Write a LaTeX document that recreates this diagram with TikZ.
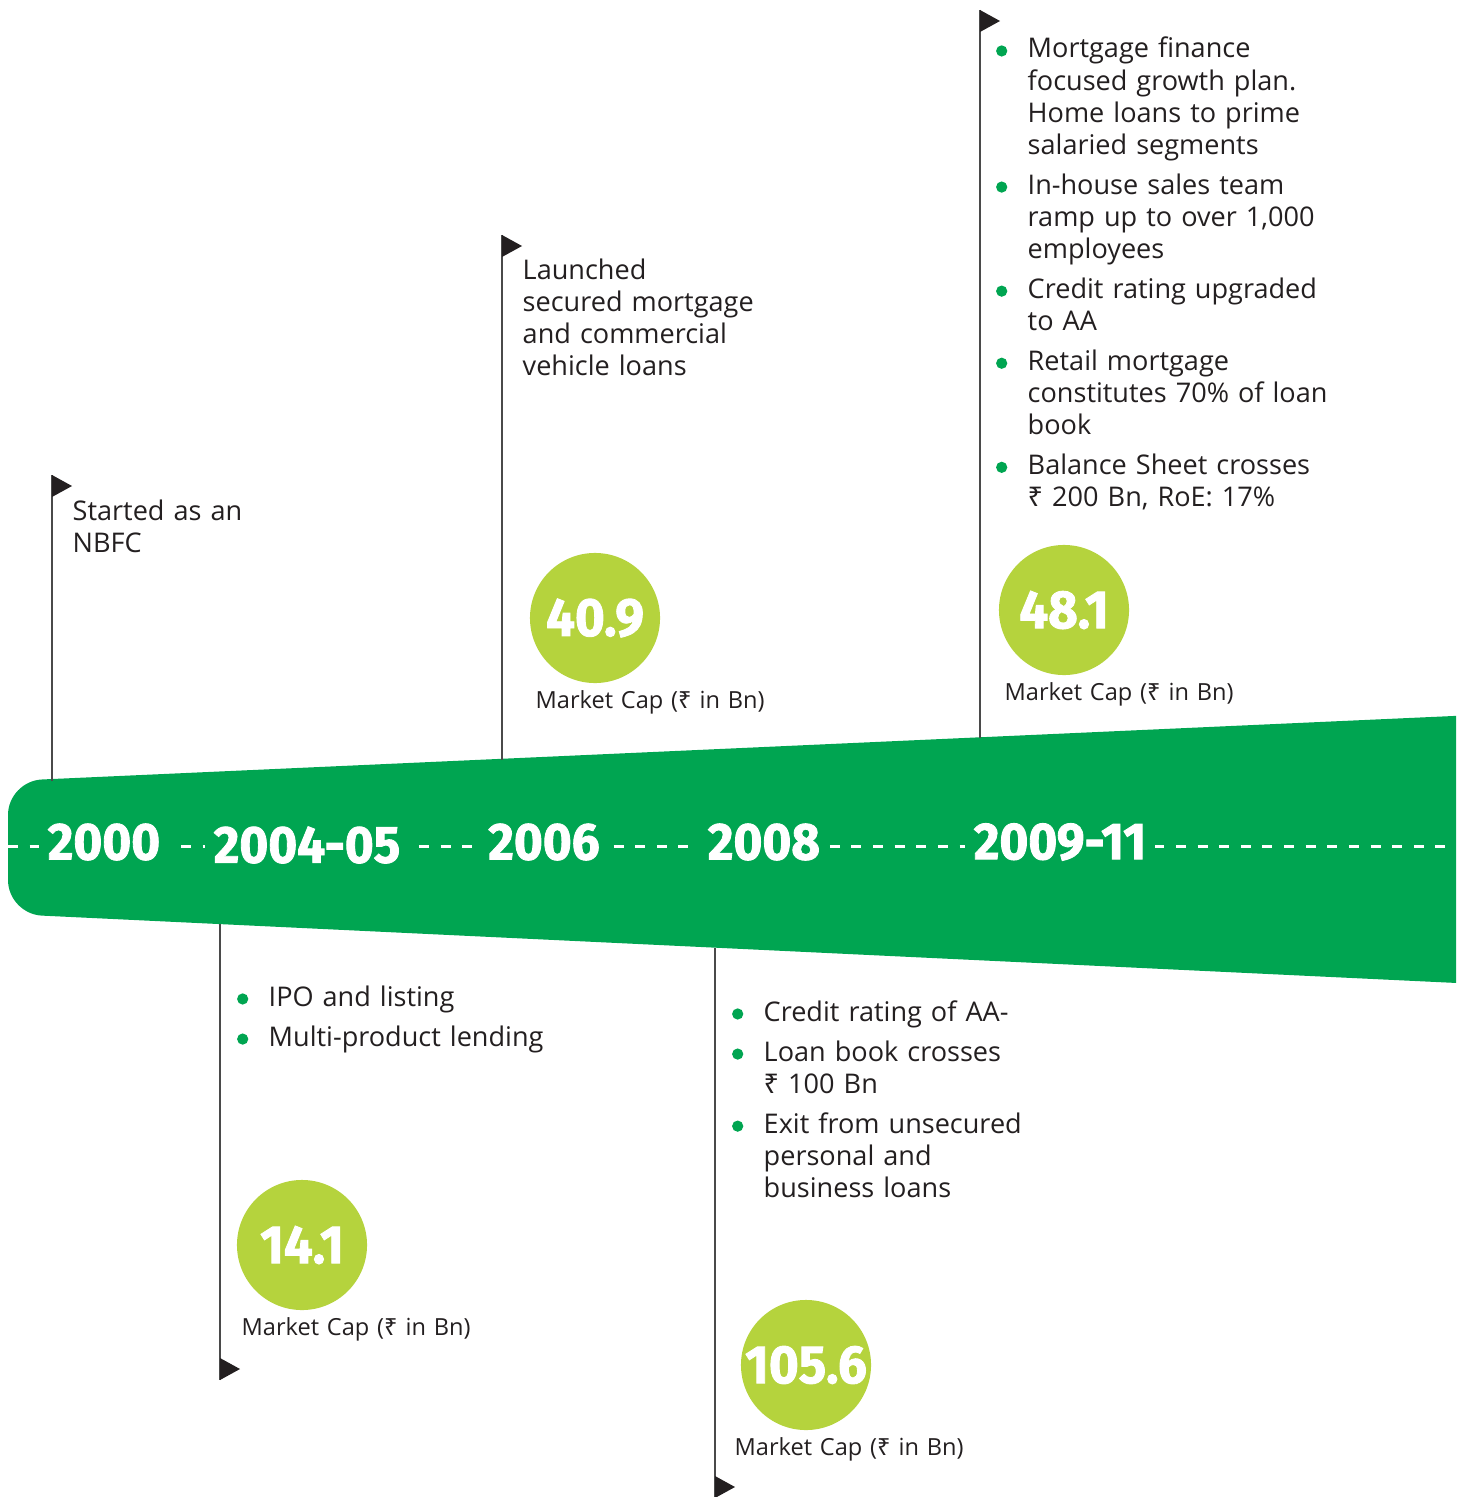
\documentclass[tikz,border=0pt]{standalone}
\usepackage{fontspec}
\setmainfont{Open Sans}
\newfontfamily\rupeefont{Noto Sans}
\newfontfamily\yearfont{Fira Sans}[FakeStretch=0.95, BoldFeatures={FakeBold=1.6}]
\usetikzlibrary{positioning}

\definecolor{bandgreen}{HTML}{00A551}
\definecolor{capgreen}{HTML}{B5D33D}
\definecolor{ink}{HTML}{231F20}
\definecolor{polegray}{HTML}{4A4A4A}

\newcommand\notefont{\fontsize{7.7}{9.1}\selectfont}
\newcommand\capfont{\fontsize{6.7}{8}\selectfont}
\newcommand\yearsize{\yearfont\bfseries\fontsize{14.8}{15}\selectfont}
\newcommand\numsize{\yearfont\bfseries\fontsize{15.3}{16}\selectfont}
\newcommand\rupee{{\rupeefont\char"20B9}}
\newcommand\gdot{\leavevmode\llap{\tikz[baseline=-2pt]\fill[bandgreen] (0,0) circle (1.6pt);\hspace{5.8pt}}}
\newcommand\nextitem{\par\vspace{2.3pt}\gdot}

\tikzset{
  note/.style={font=\notefont, text=ink, align=left, anchor=base west, inner sep=0pt, text width=3.4cm},
  caplabel/.style={note, font=\capfont},
  year/.style={font=\yearsize, text=white, fill=bandgreen, inner xsep=2.5pt, inner ysep=1pt},
  capdisc/.style={circle, fill=capgreen, minimum size=1.3cm, inner sep=0pt, font=\numsize, text=white},
  pole/.style={polegray, line width=0.45pt},
  flag/.style={fill=ink},
  dashline/.style={white, line width=0.85pt, dash pattern=on 2.85pt off 3.3pt}
}

\begin{document}
\begin{tikzpicture}[x=0.01cm, y=-0.01cm]
  \useasboundingbox (0,0) rectangle (1456,1497);

  % the widening band
  \begin{scope}
    \clip (0,0) rectangle (1456,1497);
    \fill[bandgreen, rounded corners=0.34cm] (1520,713) -- (8,781) -- (8,914) -- (1520,986) -- cycle;
  \end{scope}
  \draw[dashline] (8,846) -- (1456,846);

  \node[year] (y2000) at (104,842) {2000};
  \node[year] (y2004) at (307,845) {2004-05};
  \node[year] (y2006) at (544,842) {2006};
  \node[year] (y2008) at (764,842) {2008};
  \node[year] (y2009) at (1060,842) {2009-11};

  % flag poles
  \coordinate (e2000) at (52,781);   \coordinate (p2000) at (52,475);
  \coordinate (e2006) at (502,760);  \coordinate (p2006) at (502,235);
  \coordinate (e2009) at (980,738);  \coordinate (p2009) at (980,10);
  \coordinate (e2004) at (220,924);  \coordinate (p2004) at (220,1380);
  \coordinate (e2008) at (715,948);  \coordinate (p2008) at (715,1498);

  \draw[pole] (e2000) -- (p2000);
  \draw[pole] (e2006) -- (p2006);
  \draw[pole] (e2009) -- (p2009);
  \draw[pole] (e2004) -- (p2004);
  \draw[pole] (e2008) -- (p2008);

  \fill[flag] (p2000) -- ++(20,11) -- ++(-20,11) -- cycle;
  \fill[flag] (p2006) -- ++(20,11) -- ++(-20,11) -- cycle;
  \fill[flag] (p2009) -- ++(20,11) -- ++(-20,11) -- cycle;
  \fill[flag] (p2004) -- ++(20,-11) -- ++(-20,-11) -- cycle;
  \fill[flag] (p2008) -- ++(20,-11) -- ++(-20,-11) -- cycle;

  % milestones
  \node[note] (nbfc) at (72,520) {Started as an\\NBFC};
  \node[note] (launch) at (522,279) {Launched\\secured mortgage\\and commercial\\vehicle loans};
  \node[note] (plan) at (1027,58) {\gdot Mortgage finance\\focused growth plan.\\Home loans to prime\\salaried segments
    \nextitem In-house sales team\\ramp up to over 1,000\\employees
    \nextitem Credit rating upgraded\\to AA
    \nextitem Retail mortgage\\constitutes 70\% of loan\\book
    \nextitem Balance Sheet crosses\\\rupee{} 200 Bn, RoE: 17\%};
  \node[note] (ipo) at (268,1006) {\gdot IPO and listing
    \nextitem Multi-product lending};
  \node[note] (exit) at (763,1021) {\gdot Credit rating of AA-
    \nextitem Loan book crosses\\\rupee{} 100 Bn
    \nextitem Exit from unsecured\\personal and\\business loans};

  % market cap
  \node[capdisc] (c2006) at (595,618) {40.9};
  \node[capdisc] (c2009) at (1064,610) {48.1};
  \node[capdisc] (c2004) at (302,1245) {14.1};
  \node[capdisc] (c2008) at (806,1365) {105.6};
  \node[caplabel] (m2006) at (535,708) {Market Cap (\rupee{} in Bn)};
  \node[caplabel] (m2009) at (1004,700) {Market Cap (\rupee{} in Bn)};
  \node[caplabel] (m2004) at (241,1335) {Market Cap (\rupee{} in Bn)};
  \node[caplabel] (m2008) at (734,1455) {Market Cap (\rupee{} in Bn)};
\end{tikzpicture}
\end{document}
